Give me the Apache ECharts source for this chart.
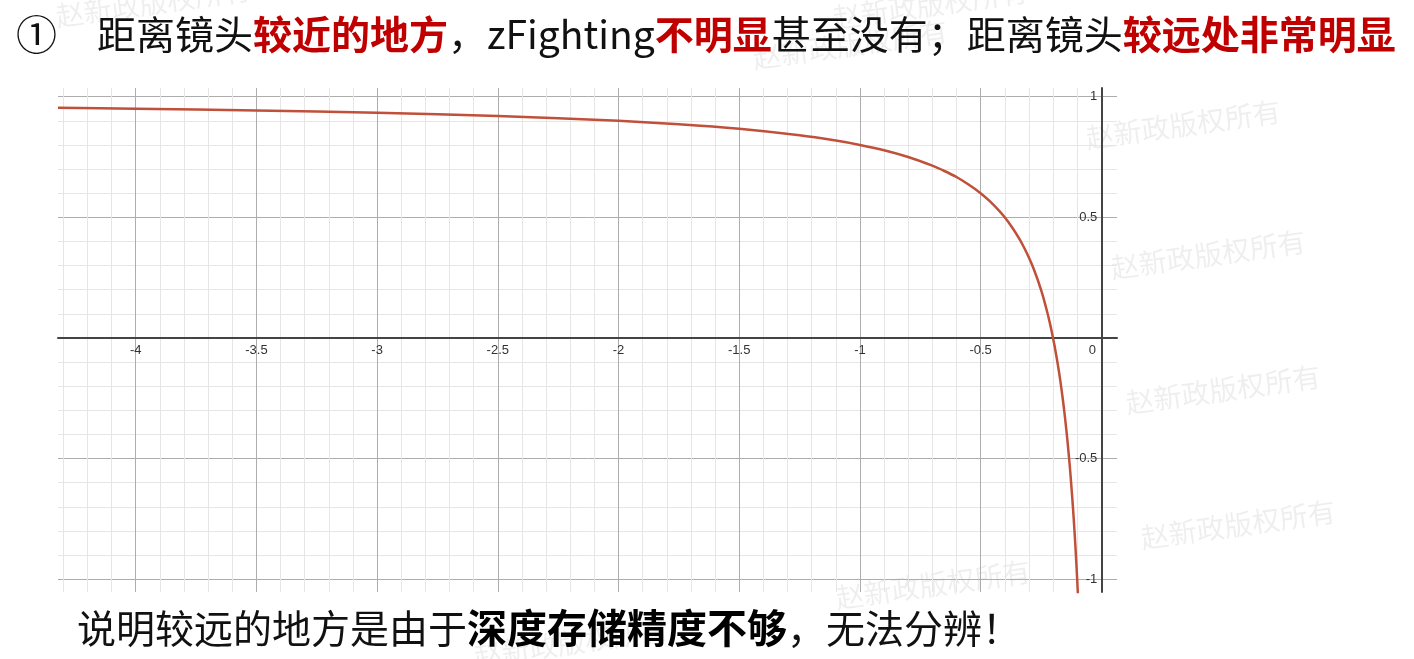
<!DOCTYPE html>
<html>
<head>
<meta charset="utf-8">
<script src="https://cdn.jsdelivr.net/npm/echarts@6/dist/echarts.min.js"></script>
<style>
html,body{margin:0;padding:0;background:#fff;}
#chart{width:1414px;height:659px;}
</style>
</head>
<body>
<div id="chart"></div>
<script>
// Curve points: [x, y]
const curveX = [-4.322, -4.0, -3.5, -3.0, -2.5, -2.0, -1.75, -1.5, -1.25, -1.1, -1.0, -0.9, -0.8, -0.7, -0.65, -0.6, -0.55, -0.5, -0.46, -0.42, -0.4, -0.37, -0.34, -0.32, -0.3, -0.28, -0.26, -0.25, -0.24, -0.23, -0.22, -0.21, -0.2, -0.19, -0.18, -0.17, -0.16, -0.15, -0.14, -0.13, -0.12, -0.115, -0.11, -0.105, -0.1, -0.097, -0.094];
const curveY = [0.954, 0.950, 0.943, 0.933, 0.920, 0.900, 0.886, 0.867, 0.840, 0.818, 0.800, 0.778, 0.750, 0.714, 0.692, 0.667, 0.636, 0.600, 0.565, 0.524, 0.500, 0.459, 0.412, 0.375, 0.333, 0.286, 0.231, 0.200, 0.167, 0.130, 0.091, 0.048, 0.000, -0.053, -0.111, -0.176, -0.250, -0.333, -0.429, -0.538, -0.667, -0.739, -0.818, -0.905, -1.000, -1.062, -1.128];

const xRange = [-4.322, 0.065];
const yRange = [-1.053, 1.036];

const titleParts = [
  ['n', '距离镜头'], ['r', '较近的地方'], ['n', '，zFighting'], ['r', '不明显'],
  ['n', '甚至没有；距离镜头'], ['r', '较远处非常明显']
];
const footParts = [
  ['n', '说明较远的地方是由于'], ['b', '深度存储精度不够'], ['n', '，无法分辨！']
];
const watermark = '赵新政版权所有';
const watermarkSpots = [[58, 30], [755, 72], [835, 32], [1088, 152], [1113, 282], [1128, 417], [1143, 552], [838, 612], [476, 670]];

const chart = echarts.init(document.getElementById('chart'));
const CJK = '"Noto Sans CJK SC", "Noto Sans", sans-serif';
const NUM = 'Arial, "Liberation Sans", sans-serif';

function richText(parts) {
  return parts.map(p => '{' + p[0] + '|' + p[1] + '}').join('');
}

const graphics = [];
watermarkSpots.forEach(p => {
  graphics.push({
    type: 'text', x: p[0], y: p[1], rotation: 0.14, z: -10, silent: true,
    style: { text: watermark, fill: 'rgba(0,0,0,0.065)', font: '28px ' + CJK, textVerticalAlign: 'bottom' }
  });
});
graphics.push({
  type: 'text', x: 16, y: 34, z: 100,
  style: { text: '①', fill: '#111', font: '41px ' + CJK, textVerticalAlign: 'middle' }
});
graphics.push({
  type: 'text', x: 97, y: 34, z: 100,
  style: {
    text: richText(titleParts), textVerticalAlign: 'middle',
    rich: {
      n: { fontSize: 39, fontFamily: CJK, fill: '#111' },
      r: { fontSize: 39, fontFamily: CJK, fill: '#c00000', fontWeight: 'bold' }
    }
  }
});
graphics.push({
  type: 'text', x: 77, y: 628, z: 100,
  style: {
    text: richText(footParts), textVerticalAlign: 'middle',
    rich: {
      n: { fontSize: 39, fontFamily: CJK, fill: '#111' },
      b: { fontSize: 40, fontFamily: CJK, fill: '#000', fontWeight: 'bold' }
    }
  }
});

const grid = { left: 58, right: 297, top: 88, bottom: 67, containLabel: false };

const option = {
  backgroundColor: '#fff',
  animation: false,
  grid: grid,
  xAxis: {
    type: 'value', min: xRange[0], max: xRange[1], splitNumber: 9,
    axisLine: { onZero: false, lineStyle: { color: '#444', width: 2 } },
    axisTick: { show: false },
    axisLabel: {
      showMinLabel: false, showMaxLabel: false, margin: 6,
      color: '#333', fontSize: 13, fontFamily: NUM,
      formatter: v => (Math.abs(v) < 1e-9 ? '{o|0}' : String(+v.toFixed(2))),
      rich: { o: { padding: [0, 18, 0, 0], fontSize: 13, fontFamily: NUM, color: '#333' } }
    },
    splitLine: { show: true, showMinLine: false, showMaxLine: false, lineStyle: { color: '#adadad', width: 1 } },
    minorTick: { show: false, splitNumber: 5 },
    minorSplitLine: { show: true, lineStyle: { color: '#e6e6e6', width: 1 } }
  },
  yAxis: {
    type: 'value', min: yRange[0], max: yRange[1], splitNumber: 4,
    axisLine: { onZero: false, lineStyle: { color: '#444', width: 2 } },
    axisTick: { show: false },
    axisLabel: {
      showMinLabel: false, showMaxLabel: false, margin: 4,
      color: '#333', fontSize: 13, fontFamily: NUM,
      formatter: v => (Math.abs(v) < 1e-9 ? '' : String(+v.toFixed(2)))
    },
    splitLine: { show: true, showMinLine: false, showMaxLine: false, lineStyle: { color: '#adadad', width: 1 } },
    minorTick: { show: false, splitNumber: 5 },
    minorSplitLine: { show: true, lineStyle: { color: '#e6e6e6', width: 1 } }
  },
  series: [{
    type: 'line',
    data: curveX.map((x, i) => [x, curveY[i]]),
    showSymbol: false,
    smooth: 0.25,
    clip: true,
    lineStyle: { color: '#c0503a', width: 2.5 },
    z: 5
  }],
  graphic: graphics
};
chart.setOption(option);

// Move both axes (line + labels) onto the zero lines, using the library's own scales.
const zeroX = chart.convertToPixel({ xAxisIndex: 0 }, 0);
const zeroY = chart.convertToPixel({ yAxisIndex: 0 }, 0);
const gridBottomPx = 659 - grid.bottom;
chart.setOption({
  xAxis: { offset: -(gridBottomPx - zeroY) },
  yAxis: { offset: -(zeroX - grid.left) }
});
</script>
</body>
</html>
